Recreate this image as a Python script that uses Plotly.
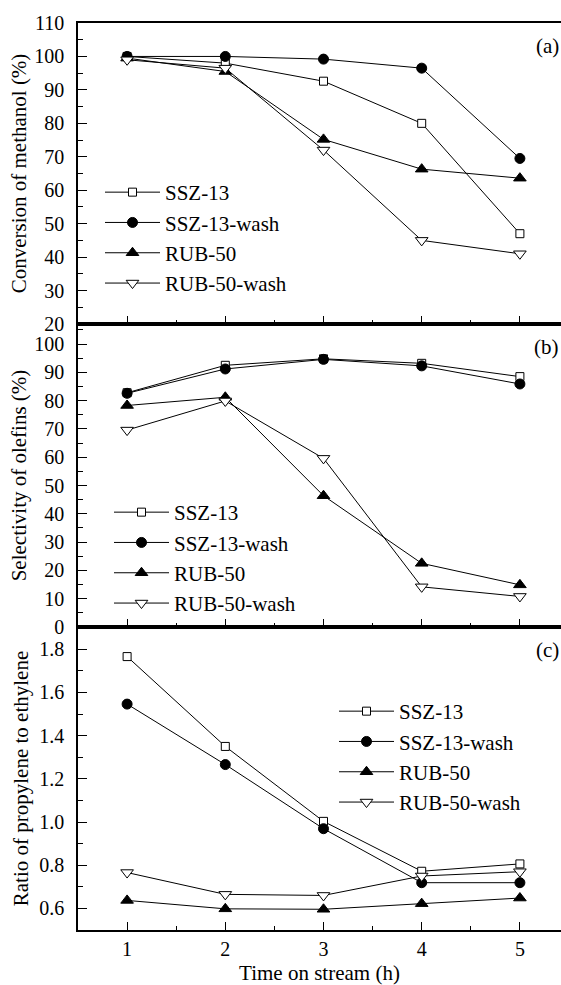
import plotly.graph_objects as go
from plotly.subplots import make_subplots

time_h = [1, 2, 3, 4, 5]
series_names = ["SSZ-13", "SSZ-13-wash", "RUB-50", "RUB-50-wash"]

conv_ssz13 = [100.0, 98.0, 92.6, 80.0, 47.0]
conv_ssz13_wash = [100.0, 100.0, 99.2, 96.5, 69.5]
conv_rub50 = [99.5, 95.5, 75.2, 66.3, 63.6]
conv_rub50_wash = [99.0, 96.5, 72.0, 45.0, 41.0]

sel_ssz13 = [82.8, 92.5, 94.8, 93.2, 88.5]
sel_ssz13_wash = [82.6, 91.2, 94.6, 92.3, 85.9]
sel_rub50 = [78.3, 81.2, 46.4, 22.5, 14.9]
sel_rub50_wash = [69.6, 79.9, 59.6, 14.2, 10.8]

ratio_ssz13 = [1.766, 1.350, 1.003, 0.772, 0.806]
ratio_ssz13_wash = [1.546, 1.266, 0.969, 0.719, 0.719]
ratio_rub50 = [0.637, 0.598, 0.596, 0.622, 0.648]
ratio_rub50_wash = [0.766, 0.665, 0.660, 0.750, 0.770]

panels = [
    [conv_ssz13, conv_ssz13_wash, conv_rub50, conv_rub50_wash],
    [sel_ssz13, sel_ssz13_wash, sel_rub50, sel_rub50_wash],
    [ratio_ssz13, ratio_ssz13_wash, ratio_rub50, ratio_rub50_wash],
]
panel_labels = ["(a)", "(b)", "(c)"]
y_titles = ["Conversion of methanol (%)", "Selectivity of olefins (%)",
            "Ratio of propylene to ethylene"]

FONT = "Liberation Serif"
FS = 21
TFS = 20
marker_styles = [
    dict(symbol="square", size=8, color="white", line=dict(color="black", width=1)),
    dict(symbol="circle", size=10, color="black", line=dict(color="black", width=1)),
    dict(symbol="triangle-up", size=11, color="black", line=dict(color="black", width=1)),
    dict(symbol="triangle-down", size=11, color="white", line=dict(color="black", width=1)),
]

W, H = 561, 985
ml, mr, mt, mb = 78, 0, 23, 55
ph = H - mt - mb
pw = W - ml - mr

fig = make_subplots(rows=3, cols=1, shared_xaxes=True, vertical_spacing=0,
                    row_heights=[301, 303, 303])

legend_names = ["legend", "legend2", "legend3"]
for r, data in enumerate(panels):
    for i, (name, vals) in enumerate(zip(series_names, data)):
        fig.add_trace(go.Scatter(
            x=time_h, y=vals, name=name, mode="lines+markers",
            line=dict(color="black", width=1),
            marker=marker_styles[i],
            legend=legend_names[r],
        ), row=r + 1, col=1)

def px_to_paper_y(ypx):
    return (H - mb - ypx) / ph

def px_to_paper_x(xpx):
    return (xpx - ml) / pw

legend_common = dict(font=dict(family=FONT, size=FS, color="black"),
                     bgcolor="rgba(0,0,0,0)", borderwidth=0,
                     xanchor="left", yanchor="top", tracegroupgap=0,
                     itemwidth=55)
fig.update_layout(
    legend=dict(x=px_to_paper_x(100), y=px_to_paper_y(172), **legend_common),
    legend2=dict(x=px_to_paper_x(109), y=px_to_paper_y(492), **legend_common),
    legend3=dict(x=px_to_paper_x(334), y=px_to_paper_y(691), **legend_common),
)

y_ranges = [[20, 110], [0, 107.1], [0.5, 1.903]]
y_dticks = [10, 10, 0.2]
y_minor = [5, 5, 0.1]
y_formats = ["", "", ".1f"]
y_title_standoff = [2, 2, 5]
for r in range(3):
    fig.update_yaxes(
        row=r + 1, col=1, range=y_ranges[r], dtick=y_dticks[r],
        tick0=0, tickformat=y_formats[r],
        ticks="inside", ticklen=9, tickwidth=1.2, tickcolor="black",
        minor=dict(dtick=y_minor[r], ticks="inside", ticklen=5, tickwidth=1.2,
                   tickcolor="black", showgrid=False),
        showline=True, linecolor="black", linewidth=1.5,
        showgrid=False, zeroline=False,
        tickfont=dict(family=FONT, size=TFS, color="black"),
        ticklabelstandoff=8,
        title=dict(text=y_titles[r], font=dict(family=FONT, size=FS, color="black"),
                   standoff=y_title_standoff[r]),
    )
    fig.update_xaxes(
        row=r + 1, col=1, range=[0.5, 0.5 + pw / 98.2], dtick=1, tick0=1,
        ticks="inside", ticklen=8, tickwidth=1.2, tickcolor="black",
        minor=dict(dtick=0.5, ticks="inside", ticklen=4, tickwidth=1.2,
                   tickcolor="black", showgrid=False),
        showline=True, linecolor="black", linewidth=1.5, mirror=True,
        showgrid=False, zeroline=False,
        tickfont=dict(family=FONT, size=TFS, color="black"),
        ticklabelstandoff=0,
    )
fig.update_xaxes(row=3, col=1,
                 title=dict(text="Time on stream (h)",
                            font=dict(family=FONT, size=FS, color="black"),
                            standoff=12))

label_y_px = [46, 347, 650]
for lab, ypx in zip(panel_labels, label_y_px):
    fig.add_annotation(text=lab, xref="paper", yref="paper", x=1.0,
                       y=px_to_paper_y(ypx), xanchor="right", yanchor="middle",
                       showarrow=False,
                       font=dict(family=FONT, size=FS, color="black"))

fig.update_layout(
    width=W, height=H,
    margin=dict(l=ml, r=mr, t=mt, b=mb, autoexpand=False),
    plot_bgcolor="white", paper_bgcolor="white",
    font=dict(family=FONT, size=FS, color="black"),
)

fig.write_html("out.html")
